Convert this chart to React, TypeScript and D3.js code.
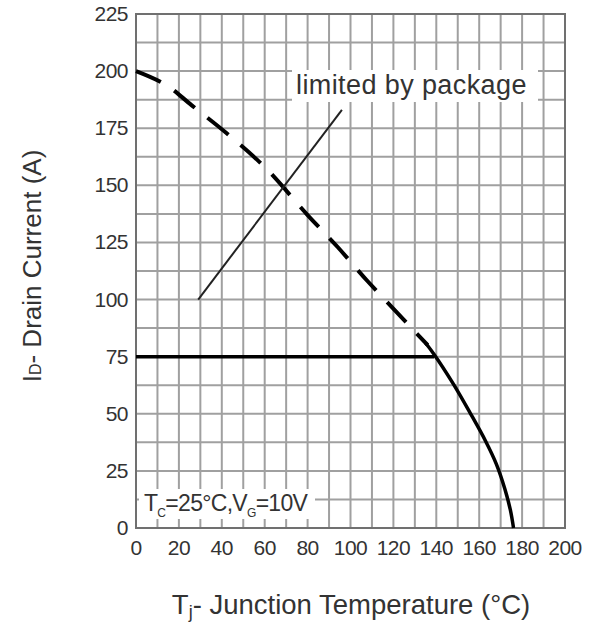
import React from "react";
import * as d3 from "d3";

const xTicks = [0, 20, 40, 60, 80, 100, 120, 140, 160, 180, 200];
const yTicks = [0, 25, 50, 75, 100, 125, 150, 175, 200, 225];
const xGrid = d3.range(0, 201, 10);
const yGrid = d3.range(0, 226, 12.5);

// dashed: silicon limited current
const siliconLimit: [number, number][] = [
  [0, 200], [14, 194], [26, 185], [42, 173], [60, 158], [80, 137], [94, 123], [108, 108], [128, 88], [136, 80],
];
// solid: package limit then derating
const packageLimit: [number, number][] = [
  [0, 75], [139, 75],
];
const derating: [number, number][] = [
  [135, 81], [139, 76], [148, 63], [156, 50], [163, 38], [168, 28], [172, 17], [174.5, 8], [176, 0],
];
const arrowLine: [number, number][] = [
  [29, 100], [96, 183],
];

const W = 592, H = 627;
const left = 136, right = 565, top = 14, bottom = 528;
const font = "'Liberation Sans', Arial, sans-serif";

export default function App() {
  const x = d3.scaleLinear().domain([0, 200]).range([left, right]);
  const y = d3.scaleLinear().domain([0, 225]).range([bottom, top]);
  const line = d3.line<[number, number]>().x((d) => x(d[0])).y((d) => y(d[1]));
  const curve = d3
    .line<[number, number]>()
    .x((d) => x(d[0]))
    .y((d) => y(d[1]))
    .curve(d3.curveCatmullRom);

  return (
    <svg width={W} height={H} style={{ position: "absolute", left: 0, top: 0, background: "#fff" }}>
      <rect width={W} height={H} fill="#fff" />
      <g stroke="#a0a0a0" strokeWidth={2}>
        {xGrid.map((v) => (
          <line key={"x" + v} x1={x(v)} x2={x(v)} y1={top} y2={bottom} />
        ))}
        {yGrid.map((v) => (
          <line key={"y" + v} x1={left} x2={right} y1={y(v)} y2={y(v)} />
        ))}
      </g>
      <rect x={left} y={top} width={right - left} height={bottom - top} fill="none" stroke="#707070" strokeWidth={2} />

      <g fontFamily={font} fontSize={21} fill="#333" letterSpacing={-0.5}>
        {yTicks.map((v) => (
          <text key={v} x={left - 8} y={y(v) + 7} textAnchor="end">{v}</text>
        ))}
        {xTicks.map((v) => (
          <text key={v} x={x(v)} y={bottom + 27} textAnchor="middle">{v}</text>
        ))}
      </g>

      <path d={curve(siliconLimit) || ""} fill="none" stroke="#000" strokeWidth={4} strokeDasharray="27,16" />
      <path d={line(packageLimit) || ""} fill="none" stroke="#000" strokeWidth={3.5} />
      <path d={curve(derating) || ""} fill="none" stroke="#000" strokeWidth={3.5} />
      <path d={line(arrowLine) || ""} fill="none" stroke="#222" strokeWidth={2} />

      <rect x={292} y={70} width={246} height={32} fill="#fff" />
      <text x={296} y={94} fontFamily={font} fontSize={27} fill="#333" letterSpacing={0.4}>limited by package</text>

      <rect x={139} y={489} width={176} height={30} fill="#fff" />
      <text x={144} y={511} fontFamily={font} fontSize={23} fill="#333" letterSpacing={-0.7}>
        T<tspan fontSize={12} dy={6}>C</tspan>
        <tspan dy={-6}>=25°C,V</tspan>
        <tspan fontSize={12} dy={6}>G</tspan>
        <tspan dy={-6}>=10V</tspan>
      </text>

      <text
        transform={`translate(41,266) rotate(-90)`}
        textAnchor="middle"
        fontFamily={font}
        fontSize={26}
        fill="#333"
      >
        I<tspan fontSize={16}>D</tspan>- Drain Current (A)
      </text>
      <text x={351} y={614} textAnchor="middle" fontFamily={font} fontSize={27.5} fill="#333">
        T<tspan fontSize={18} dy={4}>j</tspan>
        <tspan dy={-4}>- Junction Temperature (°C)</tspan>
      </text>
    </svg>
  );
}
